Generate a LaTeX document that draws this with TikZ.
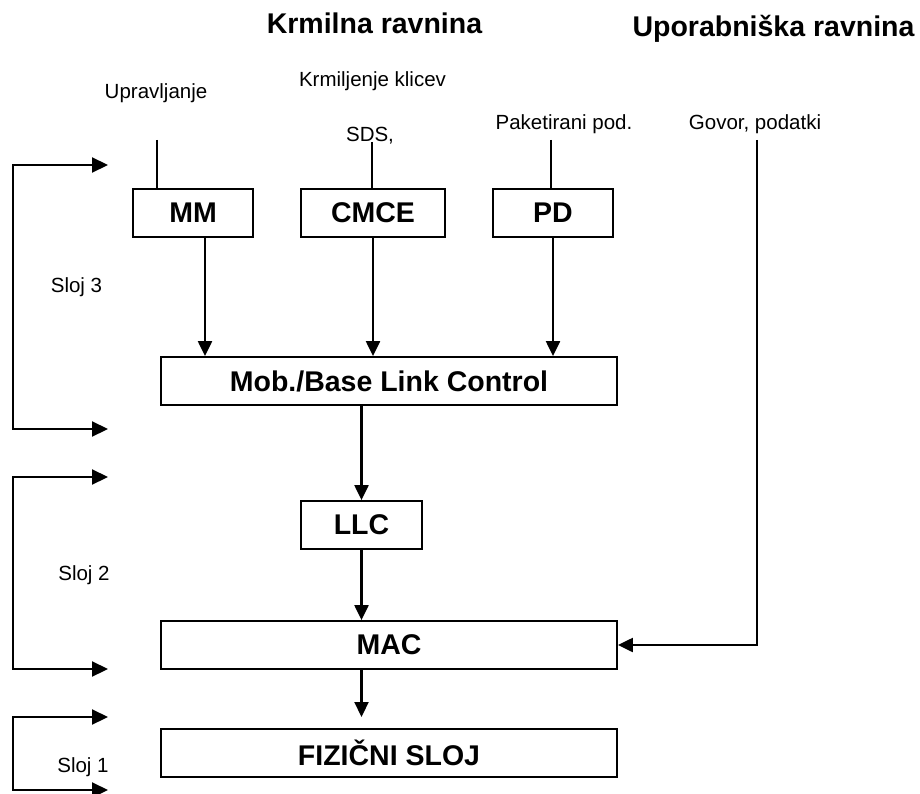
\documentclass[tikz,border=0pt]{standalone}
\usepackage{fontspec}
\setmainfont{Liberation Sans}
\usetikzlibrary{arrows.meta}
\begin{document}
\begin{tikzpicture}[x=1pt,y=-1pt,
  box/.style={draw,line width=1.8pt,inner sep=0pt,minimum height=48pt,font=\fontsize{28.5}{34}\selectfont\bfseries},
  lbl/.style={inner sep=0pt,anchor=base,font=\fontsize{20.5}{24}\selectfont},
  hdr/.style={inner sep=0pt,anchor=base,font=\fontsize{28.5}{34}\selectfont\bfseries},
  arr/.style={line width=2.2pt,-{Triangle[length=15pt,width=14pt]}},
  brk/.style={line width=2.2pt,{Triangle[length=16pt,width=15pt]}-{Triangle[length=16pt,width=15pt]}},
  feed/.style={line width=1.8pt}]
\useasboundingbox (0,0) rectangle (920,794);
% headers
\node[hdr] (h1) at (374.5,34) {Krmilna ravnina};
\node[hdr] (h2) at (773.5,37) {Uporabniška ravnina};
% top labels
\node[lbl] (upr) at (156,99) {Upravljanje};
\node[lbl] (krm) at (372.5,87) {Krmiljenje klicev};
\node[lbl] (sds) at (370,142) {SDS,};
\node[lbl] (pak) at (564,130) {Paketirani pod.};
\node[lbl] (gov) at (755,130) {Govor, podatki};
% boxes
\node[box,minimum width=120pt] (MM) at (193,213) {MM};
\node[box,minimum width=144pt] (CMCE) at (373,213) {CMCE};
\node[box,minimum width=120pt] (PD) at (553,213) {PD};
\node[box,minimum width=456pt] (Mob) at (389,381) {Mob./Base Link Control};
\node[box,minimum width=121pt] (LLC) at (361.5,525) {LLC};
\node[box,minimum width=456pt] (MAC) at (389,645) {MAC};
\node[box,minimum width=456pt] (FIZ) at (389,753) {FIZIČNI SLOJ};
% feed lines
\coordinate (mmin) at (157,140);
\coordinate (cmin) at (372,142);
\coordinate (pdin) at (551,140);
\coordinate (govin) at (757,140);
\draw[feed] (mmin) -- (mmin |- MM.north);
\draw[feed] (cmin) -- (cmin |- CMCE.north);
\draw[feed] (pdin) -- (pdin |- PD.north);
\draw[arr] (govin) -- (govin |- MAC.east) -- (MAC.east);
% vertical arrows
\draw[arr] ([xshift=12pt]MM.south) -- ([xshift=12pt]MM.south |- Mob.north);
\draw[arr] (CMCE.south) -- (CMCE.south |- Mob.north);
\draw[arr] (PD.south) -- (PD.south |- Mob.north);
\draw[arr] (LLC.north |- Mob.south) -- (LLC.north);
\draw[arr] (LLC.south) -- (LLC.south |- MAC.north);
\coordinate (fin) at (361.5,717);
\draw[arr] (LLC.south |- MAC.south) -- (fin);
% layer brackets
\coordinate (s3t) at (108,165);
\coordinate (s3b) at (108,429);
\coordinate (s2t) at (108,477);
\coordinate (s2b) at (108,669);
\coordinate (s1t) at (108,717);
\coordinate (s1b) at (108,790);
\draw[brk] (s3t) -- (12.7,165) -- (12.7,429) -- (s3b);
\draw[brk] (s2t) -- (12.7,477) -- (12.7,669) -- (s2b);
\draw[brk] (s1t) -- (12.7,717) -- (12.7,790) -- (s1b);
\node[lbl] (sl3) at (76.5,292) {Sloj 3};
\node[lbl] (sl2) at (84,580) {Sloj 2};
\node[lbl] (sl1) at (83,772) {Sloj 1};
\end{tikzpicture}
\end{document}
